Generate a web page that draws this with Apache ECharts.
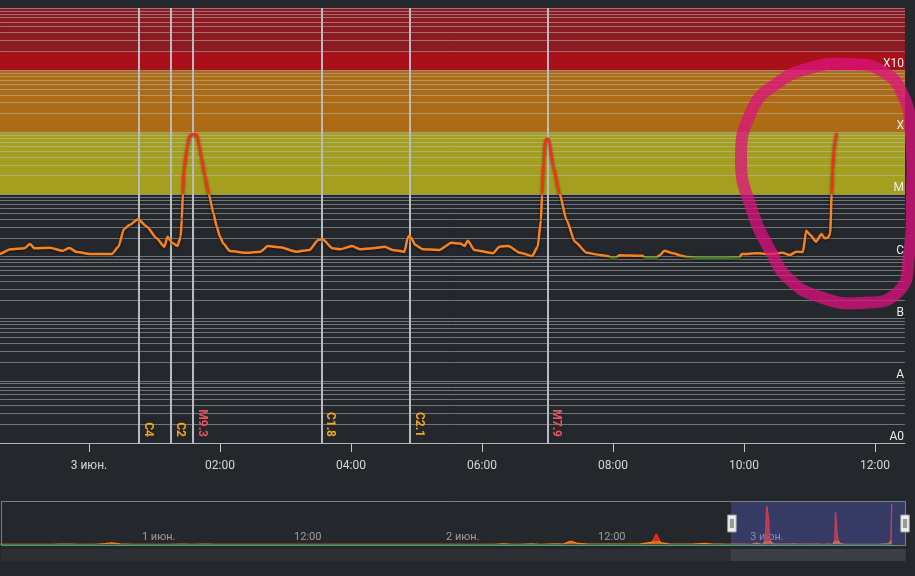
<!DOCTYPE html>
<html>
<head>
<meta charset="utf-8">
<script src="https://cdn.jsdelivr.net/npm/echarts@6/dist/echarts.min.js"></script>
<style>
html,body{margin:0;padding:0;background:#24272c;}
#chart{width:915px;height:576px;}
</style>
</head>
<body>
<div id="chart"></div>
<script>
// ---------- data ----------
const monthNames = ['янв.','февр.','мар.','апр.','мая','июн.','июл.','авг.','сент.','окт.','нояб.','дек.'];
const classLabels = ['A0','A','B','C','M','X','X10'];
const classExponents = [-9,-8,-7,-6,-5,-4,-3];
const navTickTimes = ['2024-06-01 00:00', '2024-06-01 12:00', '2024-06-02 00:00', '2024-06-02 12:00', '2024-06-03 00:00'];

// navigator-only part (before the visible window)
const fluxEarlier = [
  ['2024-05-31 13:00', 8.0e-7], ['2024-05-31 15:00', 7.5e-7], ['2024-05-31 17:00', 8.5e-7],
  ['2024-05-31 17:50', 1.5e-6], ['2024-05-31 18:30', 1.2e-6], ['2024-05-31 19:10', 8.5e-7],
  ['2024-05-31 20:30', 9.0e-7], ['2024-05-31 21:20', 2.5e-6], ['2024-05-31 21:50', 4.5e-6],
  ['2024-05-31 22:30', 1.8e-6], ['2024-05-31 23:30', 9.0e-7], ['2024-06-01 01:00', 8.0e-7],
  ['2024-06-01 02:30', 8.5e-7], ['2024-06-01 03:30', 1.6e-6], ['2024-06-01 04:10', 9.0e-7],
  ['2024-06-01 05:20', 1.3e-6], ['2024-06-01 06:00', 8.5e-7], ['2024-06-01 08:00', 7.5e-7],
  ['2024-06-01 10:00', 7.0e-7], ['2024-06-01 12:00', 7.2e-7], ['2024-06-01 14:00', 7.5e-7],
  ['2024-06-01 16:00', 8.0e-7], ['2024-06-01 18:00', 7.8e-7], ['2024-06-01 20:00', 8.2e-7],
  ['2024-06-01 22:00', 8.5e-7], ['2024-06-02 00:00', 8.8e-7], ['2024-06-02 02:00', 9.2e-7],
  ['2024-06-02 04:00', 9.5e-7], ['2024-06-02 04:40', 2.2e-6], ['2024-06-02 05:20', 1.2e-6],
  ['2024-06-02 06:00', 9.5e-7], ['2024-06-02 07:00', 1.8e-6], ['2024-06-02 07:40', 1.1e-6],
  ['2024-06-02 08:50', 2.0e-6], ['2024-06-02 09:30', 1.3e-6], ['2024-06-02 10:05', 9.0e-6],
  ['2024-06-02 10:40', 3.0e-6], ['2024-06-02 11:30', 1.5e-6], ['2024-06-02 12:30', 1.3e-6],
  ['2024-06-02 13:30', 1.6e-6], ['2024-06-02 14:30', 1.4e-6], ['2024-06-02 15:30', 1.5e-6],
  ['2024-06-02 16:30', 6.0e-6], ['2024-06-02 16:50', 2.6e-5], ['2024-06-02 17:10', 5.0e-6],
  ['2024-06-02 17:50', 1.8e-6], ['2024-06-02 18:40', 1.5e-6], ['2024-06-02 19:40', 1.7e-6],
  ['2024-06-02 20:40', 3.5e-6], ['2024-06-02 21:20', 1.6e-6], ['2024-06-02 22:10', 1.3e-6]
];

// visible window
const fluxMain = [
  ['2024-06-02 22:30', 1.10e-6], ['2024-06-02 22:38', 1.10e-6], ['2024-06-02 22:48', 1.31e-6],
  ['2024-06-02 23:01', 1.36e-6], ['2024-06-02 23:06', 1.59e-6], ['2024-06-02 23:10', 1.36e-6],
  ['2024-06-02 23:24', 1.39e-6], ['2024-06-02 23:36', 1.24e-6], ['2024-06-02 23:42', 1.37e-6],
  ['2024-06-02 23:49', 1.18e-6], ['2024-06-03 00:01', 1.10e-6], ['2024-06-03 00:21', 1.10e-6],
  ['2024-06-03 00:27', 1.44e-6], ['2024-06-03 00:32', 2.75e-6], ['2024-06-03 00:37', 3.22e-6],
  ['2024-06-03 00:45', 4.0e-6],  ['2024-06-03 00:53', 3.03e-6], ['2024-06-03 01:02', 1.97e-6],
  ['2024-06-03 01:09', 1.44e-6], ['2024-06-03 01:12', 2.09e-6], ['2024-06-03 01:16', 1.67e-6],
  ['2024-06-03 01:21', 1.48e-6], ['2024-06-03 01:24', 2.09e-6], ['2024-06-03 01:25', 4.0e-6],
  ['2024-06-03 01:26', 1.02e-5], ['2024-06-03 01:27', 2.5e-5],  ['2024-06-03 01:30', 5.86e-5],
  ['2024-06-03 01:32', 8.7e-5],  ['2024-06-03 01:34', 9.3e-5],  ['2024-06-03 01:37', 9.25e-5],
  ['2024-06-03 01:39', 9.0e-5],  ['2024-06-03 01:41', 6.24e-5], ['2024-06-03 01:43', 4.05e-5],
  ['2024-06-03 01:46', 2.06e-5], ['2024-06-03 01:50', 9.8e-6],  ['2024-06-03 01:54', 4.97e-6],
  ['2024-06-03 01:57', 3.03e-6], ['2024-06-03 02:00', 2.09e-6], ['2024-06-03 02:03', 1.63e-6],
  ['2024-06-03 02:09', 1.23e-6], ['2024-06-03 02:25', 1.15e-6], ['2024-06-03 02:37', 1.20e-6],
  ['2024-06-03 02:44', 1.48e-6], ['2024-06-03 02:55', 1.41e-6], ['2024-06-03 03:10', 1.20e-6],
  ['2024-06-03 03:22', 1.28e-6], ['2024-06-03 03:30', 1.85e-6], ['2024-06-03 03:34', 1.9e-6],
  ['2024-06-03 03:43', 1.36e-6], ['2024-06-03 03:50', 1.31e-6], ['2024-06-03 04:01', 1.48e-6],
  ['2024-06-03 04:08', 1.31e-6], ['2024-06-03 04:20', 1.36e-6], ['2024-06-03 04:31', 1.44e-6],
  ['2024-06-03 04:38', 1.28e-6], ['2024-06-03 04:49', 1.20e-6], ['2024-06-03 04:52', 2.0e-6],
  ['2024-06-03 04:53', 2.15e-6], ['2024-06-03 04:55', 2.0e-6],  ['2024-06-03 04:59', 1.53e-6],
  ['2024-06-03 05:06', 1.31e-6], ['2024-06-03 05:21', 1.28e-6], ['2024-06-03 05:32', 1.67e-6],
  ['2024-06-03 05:40', 1.62e-6], ['2024-06-03 05:44', 1.48e-6], ['2024-06-03 05:47', 1.80e-6],
  ['2024-06-03 05:53', 1.28e-6], ['2024-06-03 06:10', 1.13e-6], ['2024-06-03 06:16', 1.44e-6],
  ['2024-06-03 06:24', 1.48e-6], ['2024-06-03 06:35', 1.15e-6], ['2024-06-03 06:46', 1.02e-6],
  ['2024-06-03 06:51', 1.44e-6], ['2024-06-03 06:54', 3.87e-6], ['2024-06-03 06:55', 1.0e-5],
  ['2024-06-03 06:56:40', 3.58e-5], ['2024-06-03 06:57:50', 7.3e-5], ['2024-06-03 06:59', 7.8e-5],
  ['2024-06-03 07:01', 7.9e-5],  ['2024-06-03 07:05:30', 2.8e-5], ['2024-06-03 07:11', 1.04e-5],
  ['2024-06-03 07:17:30', 3.87e-6], ['2024-06-03 07:25', 1.73e-6], ['2024-06-03 07:36', 1.15e-6],
  ['2024-06-03 07:48', 1.06e-6], ['2024-06-03 07:55', 1.02e-6], ['2024-06-03 07:58', 9.7e-7],
  ['2024-06-03 08:03', 9.7e-7],  ['2024-06-03 08:06', 1.05e-6], ['2024-06-03 08:15', 1.04e-6],
  ['2024-06-03 08:27', 1.03e-6], ['2024-06-03 08:29', 9.7e-7],  ['2024-06-03 08:35', 9.6e-7],
  ['2024-06-03 08:40', 9.7e-7],  ['2024-06-03 08:43', 1.05e-6], ['2024-06-03 08:47', 1.24e-6],
  ['2024-06-03 08:55', 1.13e-6], ['2024-06-03 09:03', 1.03e-6], ['2024-06-03 09:08', 9.8e-7],
  ['2024-06-03 09:20', 9.6e-7],  ['2024-06-03 09:33', 9.6e-7],  ['2024-06-03 09:45', 9.6e-7],
  ['2024-06-03 09:56', 9.7e-7],  ['2024-06-03 09:58', 1.10e-6], ['2024-06-03 10:12', 1.13e-6],
  ['2024-06-03 10:24', 1.10e-6], ['2024-06-03 10:35', 1.15e-6], ['2024-06-03 10:42', 1.06e-6],
  ['2024-06-03 10:48', 1.20e-6], ['2024-06-03 10:54', 1.18e-6], ['2024-06-03 10:57', 2.6e-6],
  ['2024-06-03 11:01', 2.2e-6],  ['2024-06-03 11:06', 1.73e-6], ['2024-06-03 11:11', 2.3e-6],
  ['2024-06-03 11:14', 1.97e-6], ['2024-06-03 11:17', 2.0e-6],  ['2024-06-03 11:19', 2.4e-6],
  ['2024-06-03 11:20:20', 1.0e-5], ['2024-06-03 11:21:10', 2.5e-5], ['2024-06-03 11:22:25', 5.2e-5],
  ['2024-06-03 11:23:35', 7.5e-5], ['2024-06-03 11:24:55', 9.8e-5]
];

const flareTimes  = ['2024-06-03 00:46', '2024-06-03 01:15', '2024-06-03 01:35', '2024-06-03 03:33', '2024-06-03 04:54', '2024-06-03 07:00'];
const flareLabels = ['C4', 'C2', 'M9.3', 'C1.8', 'C2.1', 'M7.9'];

const bandFrom = [1e-5, 1e-4, 1e-3, 2e-3];
const bandTo   = [1e-4, 1e-3, 2e-3, 1e-2];

const fullStart = '2024-05-31 13:02:00';
const viewStart = '2024-06-02 22:38:30';
const viewEnd   = '2024-06-03 12:27:30';

// ---------- helpers ----------
const H = 3600 * 1000;
const toTs = s => new Date(s.replace(' ', 'T')).getTime();
const pad2 = n => (n < 10 ? '0' : '') + n;
const navTickTs = navTickTimes.map(toTs);
function timeLabel(v) {
  const d = new Date(v);
  if (d.getHours() === 0 && d.getMinutes() === 0) return d.getDate() + ' ' + monthNames[d.getMonth()];
  return pad2(d.getHours()) + ':' + pad2(d.getMinutes());
}
function navLabel(v) {
  const hit = navTickTs.some(t => Math.abs(t - v) < 60000);
  return hit ? timeLabel(v) : '';
}
function classLabel(v) {
  const e = Math.round(Math.log10(v));
  const i = classExponents.indexOf(e);
  return i >= 0 ? classLabels[i] : '';
}

const fluxData = fluxEarlier.concat(fluxMain).map(p => [toTs(p[0]), p[1]]);

const gridValues = [];
for (let e = -9; e <= -3; e++) {
  for (let m = 1; m <= 9; m++) gridValues.push(m * Math.pow(10, e));
}
gridValues.push(1e-2);

const lineX0 = toTs(viewStart) + 1000;
const lineX1 = toTs(viewEnd) - 1000;
const gridLineData = gridValues.map(v => [{ coord: [lineX0, v] }, { coord: [lineX1, v] }]);

const bandColors = ['#a59f1f', '#ad6b16', '#a8111a', '#8c1a21'];
const bandData = bandFrom.map((f, i) => [
  { yAxis: f, itemStyle: { color: bandColors[i] } },
  { yAxis: bandTo[i] }
]);

const flareData = flareTimes.map((t, i) => {
  const isM = flareLabels[i].charAt(0) === 'M';
  return [
    {
      coord: [toTs(t), 1e-2],
      lineStyle: { color: '#b8bbbf', width: 2, type: 'solid' },
      label: {
        show: true, position: 'insideEndTop', formatter: flareLabels[i],
        color: isM ? '#e8545c' : '#f5a41f', fontSize: 12, fontWeight: 'bold', distance: [6, 3]
      }
    },
    { coord: [toTs(t), 1e-9] }
  ];
});

const chart = echarts.init(document.getElementById('chart'));
const option = {
  backgroundColor: '#24272c',
  animation: false,
  textStyle: { fontFamily: 'Roboto, "Noto Sans", sans-serif' },
  grid: [
    { left: 0, right: 10, top: 8, height: 435 },
    { left: 0, right: 10, top: 501, height: 45 }
  ],
  xAxis: [
    {
      type: 'time', gridIndex: 0, min: toTs(fullStart), max: toTs(viewEnd),
      minInterval: 2.5 * H, maxInterval: 2.5 * H,
      axisLine: { lineStyle: { color: '#a9abae', width: 1 } },
      axisTick: { show: true, length: 9, lineStyle: { color: '#c8c8c8' } },
      axisLabel: { color: '#d6d6d6', fontSize: 12, margin: 17, formatter: timeLabel, showMinLabel: false, showMaxLabel: false },
      splitLine: { show: false }
    },
    {
      type: 'time', gridIndex: 1, min: toTs(fullStart), max: toTs(viewEnd),
      minInterval: 7 * H, maxInterval: 7 * H,
      axisLine: { show: false }, axisTick: { show: false }, splitLine: { show: false },
      axisLabel: {
        inside: true, color: '#9c9c9c', fontSize: 11, margin: 3, align: 'left', padding: [0, 0, 0, 3],
        interval: 0, formatter: navLabel, showMinLabel: false, showMaxLabel: false
      }
    }
  ],
  yAxis: [
    {
      type: 'log', gridIndex: 0, position: 'right', logBase: 10, min: 1e-9, max: 1e-2, splitNumber: 7, z: 6,
      axisLine: { show: false }, axisTick: { show: false }, splitLine: { show: false },
      axisLabel: { inside: true, margin: 1, verticalAlign: 'bottom', color: '#ececec', fontSize: 12, formatter: classLabel }
    },
    { type: 'value', gridIndex: 1, min: -3e-6, max: 1.05e-4, show: false }
  ],
  visualMap: {
    type: 'piecewise', show: false, seriesIndex: [0, 3], dimension: 1,
    pieces: [
      { lt: 1e-6, color: '#1f8c2a' },
      { gte: 1e-6, lt: 1e-5, color: '#f7821f' },
      { gte: 1e-5, color: '#ff2a1a' }
    ]
  },
  dataZoom: [
    {
      type: 'slider', xAxisIndex: 0, left: 0, right: 10, top: 501, height: 45,
      startValue: toTs(viewStart), endValue: toTs(viewEnd), filterMode: 'none',
      showDataShadow: false, showDetail: false, brushSelect: false, moveHandleSize: 0,
      backgroundColor: 'rgba(0,0,0,0)', borderColor: '#7d8085',
      fillerColor: 'rgba(90,102,225,0.32)',
      handleIcon: 'path://M0,0H8V16H0Z M2.5,4V12H3.5V4Z M4.5,4V12H5.5V4Z',
      handleSize: 17,
      handleStyle: { color: '#f2f2f2', borderColor: '#9a9a9a', borderWidth: 1 },
      moveHandleStyle: { opacity: 0 }
    },
    {
      type: 'slider', xAxisIndex: 0, left: 0, right: 10, top: 549, height: 12,
      startValue: toTs(viewStart), endValue: toTs(viewEnd), filterMode: 'none',
      showDataShadow: false, showDetail: false, brushSelect: false, moveHandleSize: 0,
      backgroundColor: '#2c2f34', borderColor: 'rgba(0,0,0,0)', fillerColor: '#3c3f45',
      handleSize: 0, handleStyle: { opacity: 0 }, moveHandleStyle: { opacity: 0 }
    }
  ],
  series: [
    {
      type: 'line', xAxisIndex: 0, yAxisIndex: 0, data: fluxData, z: 10, silent: true,
      symbol: 'none', showSymbol: false, smooth: 0.2, smoothMonotone: 'x',
      lineStyle: { width: 2.5, shadowColor: 'rgba(0,0,0,0.55)', shadowBlur: 3, shadowOffsetY: 1 }
    },
    {
      type: 'line', xAxisIndex: 0, yAxisIndex: 0, data: [], silent: true,
      markArea: { silent: true, z: 1, data: bandData },
      markLine: {
        silent: true, z: 2, symbol: ['none', 'none'], label: { show: false },
        lineStyle: { color: 'rgba(190,192,196,0.5)', width: 1, type: 'solid' },
        data: gridLineData
      }
    },
    {
      type: 'line', xAxisIndex: 0, yAxisIndex: 0, data: [], silent: true,
      markLine: { silent: true, z: 4, symbol: ['none', 'none'], data: flareData }
    },
    {
      type: 'line', xAxisIndex: 1, yAxisIndex: 1, data: fluxData, silent: true,
      symbol: 'none', showSymbol: false, lineStyle: { width: 1.3 }, areaStyle: { opacity: 0.8 }
    }
  ],
  // hand-drawn highlight annotation of the reference screenshot
  graphic: [
    {
      type: 'polygon', silent: true, z: 100,
      shape: {
        smooth: 0.5,
        points: [[741,160],[752,110],[776,84],[810,68],[850,64],[882,71],[903,95],[911,135],
                 [912,195],[909,255],[898,292],[860,303],[820,297],[790,280],[770,250],[752,210]]
      },
      style: { fill: 'none', stroke: 'rgba(222,18,126,0.75)', lineWidth: 12, lineJoin: 'round' }
    }
  ]
};
chart.setOption(option);
</script>
</body>
</html>
